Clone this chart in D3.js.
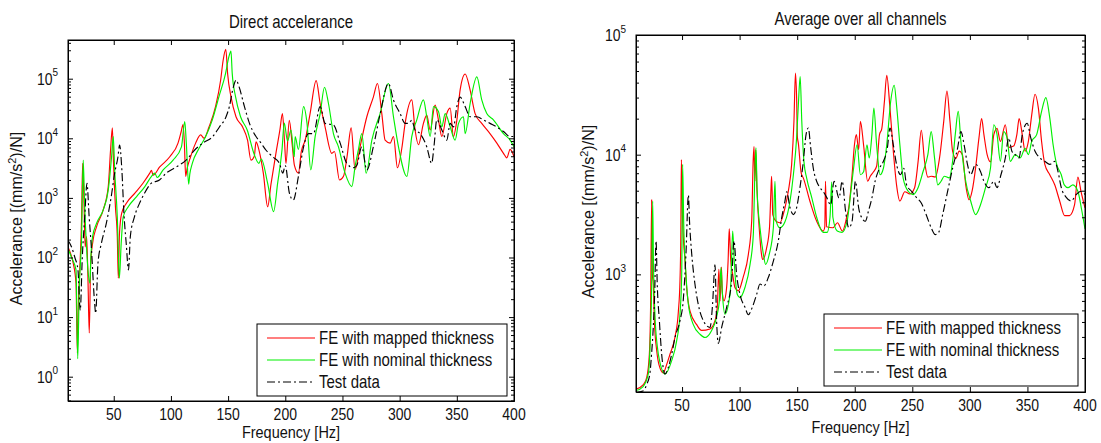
<!DOCTYPE html>
<html>
<head>
<meta charset="utf-8">
<script src="https://cdn.jsdelivr.net/npm/d3@7"></script>
<style>
  body { margin: 0; background: #fff; }
  text { font-family: "Liberation Sans", Arial, sans-serif; fill: #111; }
</style>
</head>
<body>
<div class="chart"></div>
<script>
var w = 1101, h = 443;

// [frequency Hz, accelerance (mm/s^2)/N]
var directMapped = [[10,150],[12,120],[14.6,80],[17,37],[18.2,2.5],[19,15],[20.3,62],[21.9,480],[22.8,3800],[24,820],[25,150],[26.3,224],[27.5,40],[28.6,5.4],[29.8,80],[31.5,173],[35,330],[40.8,630],[45.2,1550],[47.2,6300],[48.8,15000],[49.8,3800],[51.5,700],[53.1,224],[54,45],[55,250],[56.9,550],[61.2,820],[68.5,1200],[75.7,1780],[81.5,2600],[83,2900],[84.4,2400],[90.2,3300],[99,4900],[106.2,8300],[109,13000],[110.6,17000],[111.8,8000],[112.9,2300],[114,3000],[117.2,4900],[121.6,8300],[126,11400],[129,10000],[133.3,15500],[139,34000],[143.5,95000],[145.6,200000],[148,310000],[149.6,120000],[152.5,50000],[156.9,23000],[162.7,15500],[167,9300],[170,4300],[172.9,5000],[174.4,8700],[177.3,6000],[180.8,2600],[184.6,710],[187.5,1700],[191.8,5600],[195.3,13800],[197.5,26000],[199.3,9000],[200.6,3800],[203.5,20000],[206,8000],[208,3500],[211.5,2600],[214,6000],[217.4,9300],[221.7,26000],[227,93000],[230.5,38000],[234.8,15500],[240.7,5600],[243,6000],[247.4,2000],[250.9,2300],[254,4900],[257.6,15000],[261,3000],[265.4,7200],[271.3,23000],[277,49000],[280.6,83000],[284.4,26000],[287.3,9300],[291.7,8300],[294.6,10700],[298.1,3200],[301.9,6800],[304.8,17800],[310.6,44000],[313.5,13800],[316.5,7800],[320.8,17800],[323.7,24500],[326.7,13800],[331,36000],[334,20000],[336.9,10700],[341.2,26000],[344.2,32000],[347,10700],[350,20000],[352.9,65000],[357.3,120000],[361.6,65000],[366,26000],[371.8,17800],[379,12000],[385,8300],[390.8,5600],[393.7,4700],[396.6,6500],[400,4900]];

var directNominal = [[10,140],[13.1,100],[17,62],[18.5,2.0],[19.8,28],[21.9,224],[23.3,4300],[24.5,800],[26.2,150],[27.5,60],[29.2,37],[30,100],[31.5,224],[35,375],[40.8,630],[45.2,1350],[48.1,4900],[49.6,10700],[50.8,3000],[53.1,480],[54.9,45],[56.5,170],[58.3,480],[62.7,710],[70,1050],[77.2,1550],[83,2300],[85.9,2600],[88,2200],[93.2,2950],[101.9,4300],[109.2,7200],[112.1,19000],[113.5,8000],[115.5,1700],[116.5,2500],[118.7,3800],[124.6,6800],[130.4,10700],[136.2,20400],[142,50000],[147.8,123000],[150.7,234000],[152.5,290000],[153.6,123000],[156.5,50000],[160.9,23000],[166.7,13800],[172.5,5600],[176.9,3800],[179,4500],[184.6,1750],[189.8,590],[193.3,1750],[197.1,6300],[199.1,18000],[202,9000],[205,13800],[207.9,4900],[208.6,10700],[211.5,6500],[216,34000],[219,17800],[222.3,2950],[226.1,10700],[230.5,26000],[234.3,72000],[237.8,38000],[242.1,12000],[246.5,7200],[252.3,2600],[258.2,1550],[261.1,3400],[264,6500],[266.9,12000],[270.7,2600],[275.7,9300],[282.9,26000],[290.2,83000],[294.6,23000],[299,7200],[306.3,2300],[310.6,10700],[315,20400],[320.8,44000],[323.7,23000],[326.7,10700],[329.6,34000],[334,28000],[336.9,15600],[339.8,26000],[344.2,15600],[348.5,9300],[351.5,17800],[355.8,23000],[357.3,12000],[361.6,38000],[367.5,107000],[371.8,44000],[376.2,26000],[382,20400],[390.8,12000],[396.6,9300],[400,7200]];

var directTest = [[10,195],[13.1,150],[16,100],[18.7,62],[20.7,13],[22.5,100],[24.6,480],[26.6,1750],[28.5,480],[30.4,150],[33.3,17],[34.2,11.6],[36.2,80],[39.2,173],[43.5,375],[47.8,1050],[50.8,2600],[53.7,4900],[55.1,7700],[57.1,2950],[58.9,550],[60.9,173],[62.9,62],[64.5,224],[68.1,480],[72.5,810],[76.9,1200],[82.7,1750],[90,2000],[95.8,2600],[104.6,3300],[113.3,4300],[120.6,6300],[127.8,8300],[136.6,10700],[142.4,15500],[148.2,23000],[151.1,34000],[154,65000],[157,95000],[159.5,74000],[164.3,34000],[168.7,17800],[174.4,10700],[178.8,8300],[183.2,6300],[189,4900],[194.9,3800],[197.8,2600],[200,3500],[203.6,1200],[207,920],[211.5,2300],[216,7200],[220.3,12000],[224.6,12000],[230.5,34000],[234.8,17800],[242.1,16700],[248,8300],[253.8,3800],[259.6,3200],[262.5,3500],[266.9,7200],[271.3,2950],[277,7200],[283,26000],[290.2,83000],[294.6,44000],[300.4,26000],[304.8,17800],[307.7,17800],[310.6,20000],[313.5,13800],[317.9,12000],[323.7,7200],[328,3800],[330,7200],[332.5,20400],[336.9,13800],[341.2,9300],[344.2,17800],[347.1,15500],[350,34000],[352.9,49000],[357.3,34000],[361.6,23000],[367.5,23000],[373.3,20400],[379,17800],[384.8,15500],[390.8,13000],[396.6,10700],[400,10700]];

var avgMapped = [[10,110],[16.4,120],[19.3,137],[21.6,215],[22.7,560],[23.6,4200],[24.2,1000],[25,830],[26,400],[28,230],[30,175],[33.7,150],[36.5,175],[39.5,215],[43.9,300],[46.8,490],[48.2,880],[48.9,2000],[49.4,9100],[50.5,2800],[52.6,1290],[54,775],[57,490],[62.7,380],[67,340],[74.3,350],[78.6,410],[80.6,530],[82,1100],[83,600],[84.2,1150],[85,700],[86.4,600],[88.7,775],[90,1300],[91,2400],[92.3,1300],[94,1000],[96,775],[98.9,730],[103,940],[107.6,1470],[110.5,2800],[111.8,9000],[112.5,11700],[113.3,6000],[114,11000],[115,5300],[117,2450],[119,1470],[120,1330],[123.5,1670],[126,2500],[127.3,5300],[127.8,6600],[128.8,3150],[131.3,2800],[135,2700],[139.4,3600],[142.3,4950],[145.2,8300],[147.2,19000],[148.5,48000],[149.5,30000],[150.2,14000],[151,12500],[153.5,7000],[155.3,6400],[161,4100],[166.8,2800],[172.6,2300],[174,2500],[174.6,6000],[175.5,2500],[181,2450],[185,2700],[189.3,2300],[193,3000],[194.8,3600],[197.7,6800],[199.7,12000],[201.4,14700],[203.4,11000],[204.9,19000],[207.7,12000],[211.2,6000],[213.5,6600],[216.3,7200],[219,8000],[221.5,14700],[223.5,16500],[225.8,28000],[227.8,46000],[230.6,24500],[233.5,10700],[236.3,5600],[239.2,4100],[243.5,4900],[247.8,4700],[252,5300],[255,8700],[257.8,16000],[260.7,8700],[263.5,6500],[266.4,6600],[270,6500],[273.6,9300],[277.3,19000],[280.1,34000],[282.7,19000],[285,10700],[287.8,9300],[290.7,10700],[293.5,10000],[296.4,5600],[299.3,4200],[302,5000],[305,7800],[307.9,13800],[310.2,20000],[312.2,14700],[315,10000],[318,8700],[320.8,14700],[323.6,16600],[326.5,12900],[330.8,17800],[333.7,11500],[338,11800],[340.8,14700],[342.8,20000],[345.5,14700],[348,10700],[350.8,12900],[353.7,21400],[356.6,32000],[359.5,24500],[362.3,12900],[365.1,8300],[369.4,6800],[373.7,5600],[378,4100],[382.3,3100],[386.6,3100],[390.9,3800],[393.8,6500],[396.6,4900],[400,3600]];

var avgNominal = [[10,107],[16,115],[20.7,148],[22.5,300],[23.5,700],[24.5,4100],[25.2,1200],[26.5,450],[28.5,250],[31,180],[35.2,147],[41,190],[45.3,278],[48.2,464],[49.7,1000],[50.5,8300],[51.5,2500],[53.4,1000],[55.5,560],[59.8,380],[65.6,316],[69.9,297],[75.7,340],[80,440],[82.4,600],[83.8,1140],[85,700],[87.3,464],[90.2,560],[92.2,780],[94,2300],[95.5,1200],[98,680],[100.3,640],[104.7,780],[109,1200],[111.9,2150],[113.3,7300],[114.2,11400],[115.2,5000],[117.7,2450],[120.6,1480],[122.6,1210],[125.8,1480],[129.3,2450],[130.7,6000],[131.7,2800],[135,2450],[139.4,2750],[143.8,4100],[146.7,6800],[149.5,13800],[151,26000],[152.6,45000],[154,19000],[155.9,8700],[158.2,6400],[162.6,4400],[166.9,3000],[172.6,2240],[176,2240],[178.5,3000],[180,5900],[181,3000],[184.8,2300],[189,2240],[193.4,2780],[196.3,4600],[199,7700],[202,12100],[204.9,6800],[207.7,7200],[210.6,12100],[212.6,9400],[214.9,14700],[216.6,24500],[219,12100],[222,6800],[224.9,7700],[227.8,12100],[231.2,27800],[234.3,38000],[236.3,26000],[239.2,12100],[242,6400],[246.4,4950],[250.7,4640],[255,5300],[259.3,7200],[263.5,10000],[266.4,15600],[269.3,9400],[272.1,5600],[275,6000],[277.8,6600],[282.1,6400],[285,8800],[287.3,14700],[289.9,23000],[292.2,12900],[296.4,6000],[300.7,4100],[305,3160],[309.3,3830],[313.6,5300],[317.9,7700],[320.8,17800],[323.6,14700],[326.5,8800],[329.4,15600],[332.3,13800],[335.1,8800],[339.4,10000],[343.7,9400],[348,11300],[350.8,10000],[353.7,12900],[358,14700],[362.3,23000],[366,30000],[369.4,20300],[372.3,12100],[375.1,8500],[379.4,6800],[382,5600],[385.2,5300],[389.5,5600],[393.8,4950],[397,3500],[400,2400]];

var avgTest = [[10,103],[16,106],[19.3,120],[22,147],[23.5,215],[25,360],[26.2,680],[27.4,1900],[28.5,800],[30.3,410],[32.3,215],[35.2,147],[38,166],[41,215],[43.9,297],[48.2,410],[51,600],[53.4,1480],[55.5,4600],[56.5,2750],[58.4,1480],[61.2,830],[64.1,560],[68.5,410],[74.3,360],[76.5,560],[78.6,1200],[80,410],[81.5,265],[84.4,360],[88.7,530],[93,870],[95.1,1900],[97.4,1000],[100.3,680],[104.7,530],[107.6,460],[111,530],[114.8,680],[117.7,830],[121,800],[124.9,940],[129.3,1290],[133.6,1900],[136.5,2950],[139.4,4100],[140.9,4900],[143.8,3600],[146.7,3160],[149.5,3600],[152.4,5300],[155.3,8700],[157.7,14700],[159.7,16700],[161.7,11500],[164,7700],[166.9,6000],[169.8,5300],[172.7,4900],[175.6,4400],[179.1,3800],[182,6000],[186.3,4350],[189.1,6000],[192,3400],[194.8,2450],[197.7,2780],[200.6,6000],[203.4,3600],[206.3,2950],[209.2,2780],[212,3400],[214.9,4350],[217.7,6000],[221.5,7700],[224.9,8800],[228.3,11300],[230.6,16700],[233.5,12100],[236.3,8300],[239.8,6800],[242.6,7700],[245,5600],[249.3,4950],[253.5,4400],[257.8,3950],[262,3160],[266.4,2450],[270,2150],[273,2250],[276.4,3160],[280.7,4950],[285,7700],[289.3,11300],[292.2,15600],[295,12100],[297.9,8300],[300.7,6800],[305,8300],[309.3,7200],[312.2,6000],[316.5,5300],[320.8,6000],[323.6,5300],[327,6800],[330.8,9400],[333.7,13800],[336.5,10700],[339.4,10000],[342.8,9400],[345.5,14700],[349.8,18300],[352.9,13800],[356.6,10700],[360.8,9400],[365.1,8800],[369.4,8300],[373.7,8800],[376.6,7200],[379.4,5300],[383.7,4400],[388,4100],[392.3,4640],[396.6,4950],[400,4640]];

var seriesNames = ['FE with mapped thickness', 'FE with nominal thickness', 'Test data'];
var seriesColors = ['#ff0000', '#00f000', '#000000'];
var seriesDash = [null, null, '8,3,2,3'];
var xTicks = [50, 100, 150, 200, 250, 300, 350, 400];
var xDomain = [10, 400];

var panels = [
  { title: 'Direct accelerance', data: [directMapped, directNominal, directTest],
    yDomain: [0.391, 4.46e5], yExps: [0, 1, 2, 3, 4, 5],
    left: 68, right: 514, top: 40, bottom: 401,
    titleY: 28, tickY: 420, xlabelY: 438, ylabelX: 22,
    legend: { x: 257, y: 324, w: 250, h: 72 } },
  { title: 'Average over all channels', data: [avgMapped, avgNominal, avgTest],
    yDomain: [104, 1e5], yExps: [3, 4, 5],
    left: 636, right: 1085, top: 35, bottom: 392,
    titleY: 24.5, tickY: 411, xlabelY: 433, ylabelX: 594,
    legend: { x: 824, y: 314, w: 254, h: 72 } }
];

var sy = 1.18;

var svg = d3.select('.chart').append('svg').attr('width', w).attr('height', h);
svg.append('rect').attr('width', w).attr('height', h).attr('fill', '#fff');

function addText(g, x, y, anchor, size, rotate) {
  return g.append('text')
    .attr('transform', 'translate(' + x + ',' + y + ')' + (rotate ? ' rotate(-90)' : ' scale(1,' + sy + ')'))
    .attr('text-anchor', anchor)
    .style('font-size', size + 'px');
}

panels.forEach(function (p, pi) {
  var g = svg.append('g');
  var x = d3.scaleLinear().domain(xDomain).range([p.left, p.right]);
  var y = d3.scaleLog().domain(p.yDomain).range([p.bottom, p.top]);

  var minor = [];
  var d0 = Math.floor(Math.log10(p.yDomain[0])), d1 = Math.ceil(Math.log10(p.yDomain[1]));
  for (var d = d0; d <= d1; d++) {
    for (var k = 2; k <= 9; k++) {
      var v = k * Math.pow(10, d);
      if (v > p.yDomain[0] && v < p.yDomain[1]) minor.push(v);
    }
  }
  var major = p.yExps.map(function (e) { return Math.pow(10, e); })
    .filter(function (v) { return v >= p.yDomain[0] * 0.999 && v <= p.yDomain[1] * 1.001; });

  // clip
  var clipId = 'clip' + pi;
  g.append('clipPath').attr('id', clipId).append('rect')
    .attr('x', p.left).attr('y', p.top).attr('width', p.right - p.left).attr('height', p.bottom - p.top);

  var line = d3.line()
    .x(function (d) { return x(d[0]); })
    .y(function (d) { return y(d[1]); })
    .curve(d3.curveMonotoneX);

  var lines = g.append('g').attr('clip-path', 'url(#' + clipId + ')');
  [0, 1, 2].forEach(function (si) {
    lines.append('path')
      .datum(p.data[si])
      .attr('d', line)
      .attr('fill', 'none')
      .attr('stroke', seriesColors[si])
      .attr('stroke-width', 1.15)
      .attr('stroke-linejoin', 'round')
      .attr('stroke-dasharray', seriesDash[si]);
  });

  // axes, ticks pointing inwards on all four sides
  function ax(gen, tx, ty, vals, size) {
    var a = g.append('g').attr('transform', 'translate(' + tx + ',' + ty + ')')
      .call(gen.tickValues(vals).tickSize(-size).tickSizeOuter(0).tickFormat(''));
    a.select('.domain').attr('stroke', '#000');
    a.selectAll('.tick line').attr('stroke', '#000');
  }
  ax(d3.axisBottom(x), 0, p.bottom, xTicks, 5);
  ax(d3.axisTop(x), 0, p.top, xTicks, 5);
  ax(d3.axisLeft(y), p.left, 0, major, 5);
  ax(d3.axisRight(y), p.right, 0, major, 5);
  ax(d3.axisLeft(y), p.left, 0, minor, 3);
  ax(d3.axisRight(y), p.right, 0, minor, 3);
  g.append('rect')
    .attr('x', p.left).attr('y', p.top)
    .attr('width', p.right - p.left).attr('height', p.bottom - p.top)
    .attr('fill', 'none').attr('stroke', '#000').attr('stroke-width', 1);

  // tick labels
  xTicks.forEach(function (t) {
    addText(g, x(t), p.tickY, 'middle', 14).text(t);
  });
  major.forEach(function (v) {
    var t = addText(g, p.left - 10, y(v) + 6, 'end', 14);
    t.append('tspan').text('10');
    t.append('tspan').attr('dy', -7).style('font-size', '10px').text(Math.round(Math.log10(v)));
  });

  // titles and labels
  addText(g, (p.left + p.right) / 2, p.titleY, 'middle', 15).text(p.title);
  addText(g, (p.left + p.right) / 2, p.xlabelY, 'middle', 14.5).text('Frequency [Hz]');
  var yl = addText(g, p.ylabelX, (p.top + p.bottom) / 2 - 2, 'middle', 16, true);
  yl.append('tspan').text('Accelerance [(mm/s');
  yl.append('tspan').attr('dy', -6).style('font-size', '11px').text('2');
  yl.append('tspan').attr('dy', 6).text(')/N]');

  // legend
  var L = p.legend;
  var lg = g.append('g');
  lg.append('rect').attr('x', L.x).attr('y', L.y).attr('width', L.w).attr('height', L.h)
    .attr('fill', '#fff').attr('stroke', '#000').attr('stroke-width', 1);
  seriesNames.forEach(function (name, si) {
    var ly = L.y + 14 + si * 22;
    lg.append('line')
      .attr('x1', L.x + 10).attr('x2', L.x + 58).attr('y1', ly).attr('y2', ly)
      .attr('stroke', seriesColors[si]).attr('stroke-width', 1.2)
      .attr('stroke-dasharray', seriesDash[si]);
    addText(lg, L.x + 62, ly + 6, 'start', 15).text(name);
  });
});
</script>
</body>
</html>
